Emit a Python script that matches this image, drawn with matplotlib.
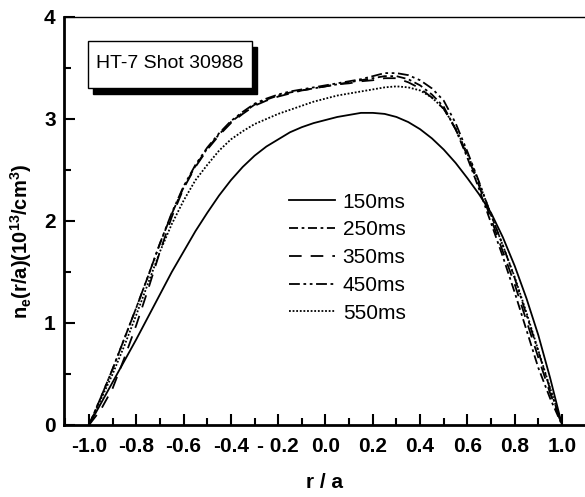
import matplotlib
matplotlib.use("Agg")
import matplotlib.pyplot as plt
from matplotlib.patches import Rectangle
from matplotlib.ticker import MultipleLocator

# radial positions r/a
r = [-1.0, -0.95, -0.9, -0.85, -0.8, -0.75, -0.7, -0.65, -0.6, -0.55, -0.5,
     -0.45, -0.4, -0.35, -0.3, -0.25, -0.2, -0.15, -0.1, -0.05, 0.0,
     0.05, 0.1, 0.15, 0.2, 0.25, 0.3, 0.35, 0.4, 0.45, 0.5,
     0.55, 0.6, 0.65, 0.7, 0.75, 0.8, 0.85, 0.9, 0.95, 1.0]

# density profiles, 1e13 / cm^3
ne_150 = [0.0, 0.21, 0.42, 0.63, 0.84, 1.06, 1.28, 1.50, 1.70, 1.90, 2.08,
          2.25, 2.40, 2.53, 2.64, 2.73, 2.80, 2.87, 2.92, 2.96, 2.99,
          3.02, 3.04, 3.06, 3.06, 3.05, 3.02, 2.97, 2.90, 2.81, 2.70,
          2.57, 2.42, 2.26, 2.08, 1.84, 1.56, 1.24, 0.88, 0.46, 0.0]
ne_250 = [0.0, 0.27, 0.55, 0.85, 1.15, 1.46, 1.78, 2.07, 2.33, 2.54, 2.71,
          2.85, 2.97, 3.06, 3.14, 3.19, 3.23, 3.26, 3.28, 3.30, 3.32,
          3.34, 3.36, 3.38, 3.40, 3.42, 3.42, 3.39, 3.33, 3.24, 3.12,
          2.90, 2.62, 2.31, 1.98, 1.65, 1.30, 0.93, 0.56, 0.26, 0.0]
ne_350 = [0.0, 0.15, 0.36, 0.66, 0.98, 1.33, 1.70, 2.04, 2.32, 2.53, 2.70,
          2.84, 2.96, 3.05, 3.13, 3.18, 3.22, 3.25, 3.28, 3.30, 3.32,
          3.34, 3.35, 3.37, 3.38, 3.40, 3.40, 3.36, 3.30, 3.21, 3.10,
          2.90, 2.64, 2.34, 2.02, 1.70, 1.38, 1.02, 0.66, 0.31, 0.0]
ne_450 = [0.0, 0.27, 0.55, 0.85, 1.15, 1.46, 1.78, 2.08, 2.34, 2.55, 2.72,
          2.86, 2.98, 3.07, 3.15, 3.20, 3.24, 3.27, 3.29, 3.31, 3.33,
          3.35, 3.37, 3.39, 3.42, 3.45, 3.45, 3.43, 3.38, 3.30, 3.18,
          2.96, 2.68, 2.38, 2.06, 1.76, 1.44, 1.08, 0.72, 0.35, 0.0]
ne_550 = [0.0, 0.25, 0.50, 0.78, 1.08, 1.39, 1.70, 1.97, 2.20, 2.40, 2.55,
          2.69, 2.80, 2.88, 2.95, 3.00, 3.05, 3.09, 3.13, 3.17, 3.20,
          3.23, 3.25, 3.27, 3.29, 3.31, 3.32, 3.31, 3.28, 3.21, 3.10,
          2.91, 2.66, 2.37, 2.06, 1.76, 1.45, 1.10, 0.73, 0.36, 0.0]

labels = ["150ms", "250ms", "350ms", "450ms", "550ms"]
xtick_vals = [-1.0, -0.8, -0.6, -0.4, -0.2, 0.0, 0.2, 0.4, 0.6, 0.8, 1.0]
xtick_labels = ["-1.0", "-0.8", "-0.6", "-0.4", "- 0.2", "0.0", "0.2", "0.4",
                "0.6", "0.8", "1.0"]
ytick_vals = [0, 1, 2, 3, 4]

plt.rcParams["font.family"] = ["Liberation Sans", "DejaVu Sans"]
plt.rcParams["mathtext.default"] = "regular"

W, H = 585, 497
fig = plt.figure(figsize=(W / 100, H / 100), dpi=100)
ax = fig.add_axes([64 / W, 72 / H, 521 / W, 408 / H])

styles = [
    "-",
    (0, (5, 2, 1.5, 2)),
    (0, (7, 5)),
    (0, (6, 2, 1.5, 2, 1.5, 2)),
    (0, (1, 1)),
]
series = [ne_150, ne_250, ne_350, ne_450, ne_550]
for ys, ls, lab in zip(series, styles, labels):
    ax.plot(r, ys, color="black", linestyle=ls, linewidth=1.3, label=lab)

ax.set_xlim(-1.1057, 1.0973)
ax.set_ylim(0, 4)
ax.set_xticks(xtick_vals)
ax.set_xticklabels(xtick_labels)
ax.set_yticks(ytick_vals)
ax.xaxis.set_minor_locator(MultipleLocator(0.1))
ax.yaxis.set_minor_locator(MultipleLocator(0.5))
ax.tick_params(which="both", direction="in", top=False, right=False, width=1.5)
ax.tick_params(which="major", length=8, labelsize=15)
ax.tick_params(which="minor", length=5)
ax.tick_params(axis="x", pad=9)
ax.tick_params(axis="y", pad=6)
for t in ax.get_xticklabels() + ax.get_yticklabels():
    t.set_fontweight("bold")

ax.spines["left"].set_linewidth(2)
ax.spines["bottom"].set_linewidth(2)
ax.spines["top"].set_linewidth(1)
ax.spines["right"].set_visible(False)

ax.set_xlabel("r / a", fontsize=15, fontweight="bold", labelpad=12)
ax.set_ylabel("n$_e$(r/a)(10$^{13}$/cm$^3$)", fontsize=14.5, fontweight="bold")
ax.yaxis.set_label_coords(-0.058, 0.45)

leg = ax.legend(loc="upper left", bbox_to_anchor=(0.415, 0.59), frameon=False,
                fontsize=15, handlelength=2.25, handletextpad=0.35, labelspacing=0.42,
                borderaxespad=0)

# annotation box with shadow
fig.patches.append(Rectangle((93 / W, 1 - 94 / H), 164 / W, 47 / H,
                             transform=fig.transFigure, facecolor="black",
                             edgecolor="black", zorder=5))
fig.patches.append(Rectangle((88 / W, 1 - 88 / H), 164 / W, 47 / H,
                             transform=fig.transFigure, facecolor="white",
                             edgecolor="black", linewidth=1, zorder=6))
fig.text(170 / W, 1 - 64 / H, "HT-7 Shot 30988", fontsize=14,
         ha="center", va="center", zorder=7)

fig.savefig("out.png", dpi=100)
